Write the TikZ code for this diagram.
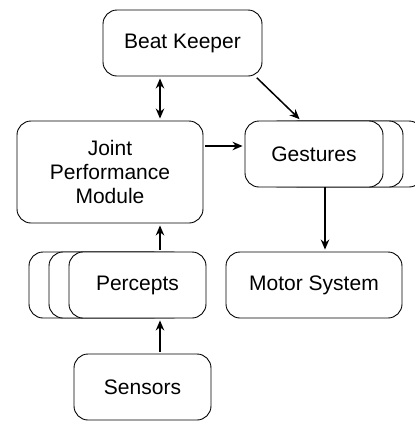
\documentclass[tikz,border=0pt]{standalone}
\usepackage{fontspec}
\setmainfont{Liberation Sans}
\usetikzlibrary{arrows.meta}
\tikzset{
  box/.style={draw, fill=white, rounded corners=14pt, line width=0.9pt, inner sep=0pt,
    align=center, font=\fontsize{21}{24}\selectfont},
  link/.style={line width=1.5pt, -{Stealth[length=10pt,width=8.5pt]}, shorten >=2pt, shorten <=2pt}
}
\begin{document}
\begin{tikzpicture}[x=1pt, y=-1pt, line join=round]
\clip (0,0) rectangle (415,421);
% stacked copies behind
\node[box, minimum width=138pt, minimum height=66pt] (ges3) at (354,154) {};
\node[box, minimum width=138pt, minimum height=66pt] (ges2) at (334,154) {};
\node[box, minimum width=137pt, minimum height=66pt] (per3) at (97.5,285) {};
\node[box, minimum width=137pt, minimum height=66pt] (per2) at (117.5,285) {};
% modules
\node[box, minimum width=159pt, minimum height=66pt] (bk) at (182.5,43) {Beat Keeper};
\node[box, minimum width=186pt, minimum height=102pt] (jpm) at (110,172) {Joint\\Performance\\Module};
\node[box, minimum width=138pt, minimum height=66pt] (ges) at (314,154) {Gestures};
\node[box, minimum width=137pt, minimum height=66pt] (per) at (137.5,285) {Percepts};
\node[box, minimum width=176pt, minimum height=66pt] (mot) at (314,285) {Motor System};
\node[box, minimum width=137pt, minimum height=66pt] (sen) at (142.5,387) {Sensors};
\coordinate (ax) at (160,0);
\coordinate (bx) at (325,0);
\coordinate (ay) at (0,146);
% connectors
\draw[link, {Stealth[length=10pt,width=8.5pt]}-{Stealth[length=10pt,width=8.5pt]}] (bk.south -| ax) -- (jpm.north -| ax);
\draw[link] ([xshift=-7pt]bk.south east) -- ([xshift=-13pt]ges.north);
\draw[link] (jpm.east |- ay) -- (ges.west |- ay);
\draw[link, shorten <=0pt] (ges.south -| bx) -- (mot.north -| bx);
\draw[link] (per.north -| ax) -- (jpm.south -| ax);
\draw[link] (sen.north -| ax) -- (per.south -| ax);
\end{tikzpicture}
\end{document}
